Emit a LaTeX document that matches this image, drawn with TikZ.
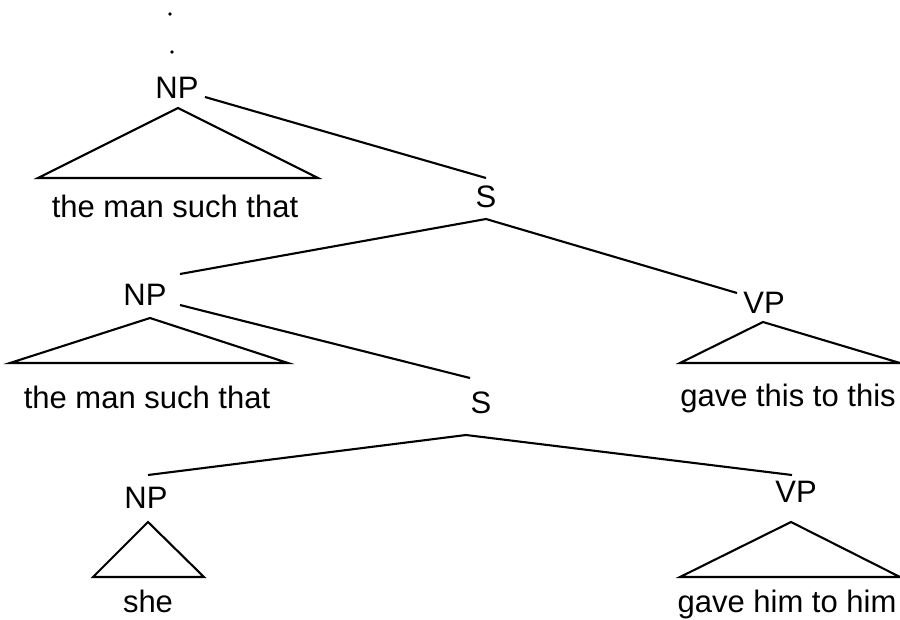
\documentclass[tikz,border=0pt]{standalone}
\usepackage{fontspec}
\setmainfont{Liberation Sans}
\begin{document}
\begin{tikzpicture}[x=1pt,y=-1pt,
  lbl/.style={anchor=base, inner sep=0pt, font=\fontsize{31}{36}\selectfont},
  branch/.style={line width=2.1pt, line join=miter},
  roof/.style={line width=2.1pt, line join=miter}]
\useasboundingbox (0,0) rectangle (900,619);

% category labels
\node[lbl] (np1) at (177,98) {NP};
\node[lbl] (s1)  at (486,207) {S};
\node[lbl] (vp1) at (764,313) {VP};
\node[lbl] (np2) at (145,305) {NP};
\node[lbl] (s2)  at (481,413) {S};
\node[lbl] (np3) at (146,508) {NP};
\node[lbl] (vp2) at (796,502) {VP};

% terminal strings
\node[lbl] (w1) at (175,217) {the man such that};
\node[lbl] (w2) at (147,408) {the man such that};
\node[lbl] (w3) at (788,406) {gave this to this};
\node[lbl] (w4) at (148,612) {she};
\node[lbl] (w5) at (787,612) {gave him to him};

% ellipsis above the root
\coordinate (dotA) at (170,14);
\coordinate (dotB) at (172,52);
\fill (dotA) circle (1.9);
\fill (dotB) circle (1.9);

% branch end points
\coordinate (np1out) at (205,97);
\coordinate (s1in)   at (486,178);
\coordinate (s1top)  at (486,219);
\coordinate (np2in)  at (180,274);
\coordinate (vp1in)  at (737,293);
\coordinate (np2out) at (180,305);
\coordinate (s2in)   at (470,378);
\coordinate (s2top)  at (466,435);
\coordinate (np3in)  at (148,475);
\coordinate (vp2in)  at (792,475);

\draw[branch] (np1out) -- (s1in);
\draw[branch] (np2in) -- (s1top) -- (vp1in);
\draw[branch] (np2out) -- (s2in);
\draw[branch] (np3in) -- (s2top) -- (vp2in);

% triangles over unanalysed constituents
\coordinate (r1a) at (178,108); \coordinate (r1l) at (38,178);  \coordinate (r1r) at (318,178);
\coordinate (r2a) at (150,318); \coordinate (r2l) at (10,363);  \coordinate (r2r) at (288,363);
\coordinate (r3a) at (763,322); \coordinate (r3l) at (680,363); \coordinate (r3r) at (900,363);
\coordinate (r4a) at (148,522); \coordinate (r4l) at (93,577);  \coordinate (r4r) at (204,577);
\coordinate (r5a) at (791,522); \coordinate (r5l) at (680,577); \coordinate (r5r) at (900,577);

\draw[roof] (r1a) -- (r1l) -- (r1r) -- cycle;
\draw[roof] (r2a) -- (r2l) -- (r2r) -- cycle;
\draw[roof] (r3a) -- (r3l) -- (r3r) -- cycle;
\draw[roof] (r4a) -- (r4l) -- (r4r) -- cycle;
\draw[roof] (r5a) -- (r5l) -- (r5r) -- cycle;
\end{tikzpicture}
\end{document}
